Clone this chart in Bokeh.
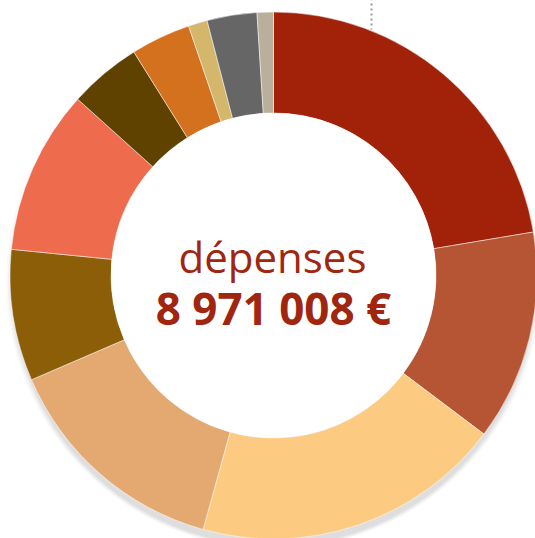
import math
from bokeh.plotting import figure
from bokeh.models import Range1d, ColumnDataSource
from bokeh.embed import file_html
from bokeh.resources import INLINE
from bokeh.core.properties import value

# --- data (euros) ---
categories = ["Poste 1", "Poste 2", "Poste 3", "Poste 4", "Poste 5", "Poste 6",
              "Poste 7", "Poste 8", "Poste 9", "Poste 10", "Poste 11"]
amounts = [2006000, 1158800, 1707000, 1275900, 722700, 904600,
           398700, 328900, 104700, 274100, 89608]
colors = ["#A12109", "#B65533", "#FCCA80", "#E4A970", "#8B5E07", "#EE6C4D",
          "#5F4200", "#D4711F", "#D5B76B", "#666666", "#B9AF9C"]
title_label = "dépenses"
total_label = "8 971 008 €"

W, H = 535, 538
p = figure(width=W, height=H, output_backend="svg", toolbar_location=None,
           x_range=Range1d(0, W), y_range=Range1d(0, H),
           min_border=0, outline_line_color=None)
p.axis.visible = False
p.grid.visible = False
p.background_fill_color = "white"
p.border_fill_color = "white"

# screen coords -> data
def sy(y):
    return 538 - y

cx, cy = 273, sy(275)
r_in, r_out = 162.5, 263.5

# soft shadow under the ring
for i, a in enumerate([0.025, 0.03, 0.035, 0.04]):
    p.circle(x=cx, y=cy - 6 - i, radius=r_out + 4 - 2 * i,
             fill_color="#000000", fill_alpha=a, line_color=None)

total = sum(amounts)
starts, ends = [], []
acc = 0.0
for v in amounts:
    starts.append(math.pi / 2 - 2 * math.pi * acc / total)
    acc += v
    ends.append(math.pi / 2 - 2 * math.pi * acc / total)

src = ColumnDataSource(dict(cat=categories, val=amounts, color=colors,
                            start=starts, end=ends))
p.annular_wedge(x=cx, y=cy, inner_radius=r_in, outer_radius=r_out,
                start_angle="start", end_angle="end", direction="clock",
                fill_color="color", line_color="white", line_width=0.5,
                source=src)
# white hole
p.circle(x=cx, y=cy, radius=r_in, fill_color="white", line_color=None)

# dotted leader line at top
p.segment(x0=371, y0=sy(-2), x1=371, y1=sy(29), line_color="#9a9a9a",
          line_width=2, line_dash="2 3")

p.text(x=[cx - 1], y=[sy(256)], text=[title_label], text_align="center",
       text_baseline="alphabetic", text_font=value("Open Sans"),
       text_font_size="42px", text_color="#A0260F")
p.text(x=[cx], y=[sy(307)], text=[total_label], text_align="center",
       text_baseline="alphabetic", text_font=value("Open Sans"),
       text_font_style="bold", text_font_size="44px", text_color="#A0260F")

open("out.html", "w").write(file_html(p, INLINE))
